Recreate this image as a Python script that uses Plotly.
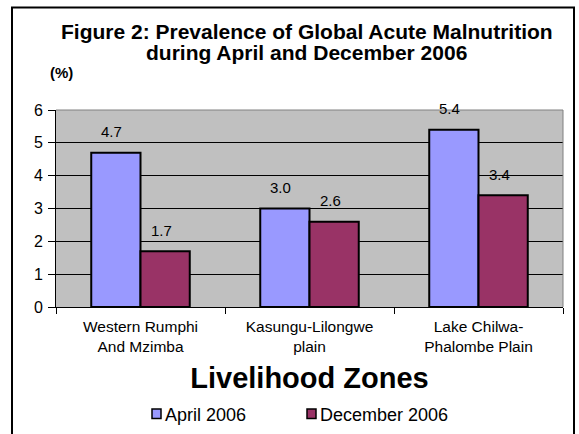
import plotly.graph_objects as go

categories = ["Western Rumphi<br>And Mzimba", "Kasungu-Lilongwe<br>plain", "Lake Chilwa-<br>Phalombe Plain"]
april_2006 = [4.7, 3.0, 5.4]
december_2006 = [1.7, 2.6, 3.4]
series_names = ["April 2006", "December 2006"]
series_colors = ["#9999FF", "#993366"]
y_ticks = [0, 1, 2, 3, 4, 5, 6]

FONT = "Arial, Liberation Sans, sans-serif"
W, H = 579, 434
L, R, T, B = 56, 16, 110, 127
PW, PH = W - L - R, H - T - B


def px(x):
    return (x - L) / PW


def py(y):
    return (H - B - y) / PH


fig = go.Figure()
for name, vals, col in zip(series_names, (april_2006, december_2006), series_colors):
    fig.add_trace(go.Bar(name=name, x=categories, y=vals, showlegend=False,
                         marker=dict(color=col, line=dict(color="black", width=2))))

bar_px = PW / 3 * (1 - 0.417) / 2
annotations = []
for vals, sgn in ((april_2006, -1), (december_2006, 1)):
    for c, v in zip(categories, vals):
        annotations.append(dict(x=c, y=v, xref="x", yref="y", text=f"{v:.1f}",
                                showarrow=False, xshift=sgn * bar_px / 2 - 4, yshift=21,
                                yanchor="middle", font=dict(size=15, color="black", family=FONT)))

annotations += [
    dict(x=px(307), y=py(31), xref="paper", yref="paper", showarrow=False,
         text="<b>Figure 2: Prevalence of Global Acute Malnutrition</b>",
         font=dict(size=21, color="black", family=FONT), xanchor="center", yanchor="middle"),
    dict(x=px(306), y=py(52.5), xref="paper", yref="paper", showarrow=False,
         text="<b>during April and December 2006</b>",
         font=dict(size=21, color="black", family=FONT), xanchor="center", yanchor="middle"),
    dict(x=px(61), y=py(72), xref="paper", yref="paper", showarrow=False,
         text="<b>(%)</b>", font=dict(size=15, color="black", family=FONT),
         xanchor="center", yanchor="middle"),
]

shapes = [
    dict(type="rect", xref="paper", yref="paper", x0=px(12), x1=px(574), y0=py(445), y1=py(7.5),
         line=dict(color="black", width=2), fillcolor="rgba(0,0,0,0)", layer="above"),
    dict(type="path", xref="paper", yref="paper",
         path="M 0,1 L 1,1 L 1,0", line=dict(color="#808080", width=1), layer="above"),
]

# manual legend (icon directly beside its text, as in the reference)
legend_icon_x = [152, 307]
for name, col, ix in zip(series_names, series_colors, legend_icon_x):
    shapes.append(dict(type="rect", xref="paper", yref="paper", x0=px(ix), x1=px(ix + 9),
                       y0=py(418.5), y1=py(409), fillcolor=col,
                       line=dict(color="black", width=1.5), layer="above"))
    annotations.append(dict(x=px(ix + 10.5), y=py(414.5), xref="paper", yref="paper", text=name,
                            showarrow=False, xanchor="left", yanchor="middle",
                            font=dict(size=18, color="black", family=FONT)))

fig.update_layout(
    width=W, height=H,
    margin=dict(l=L, r=R, t=T, b=B, autoexpand=False),
    paper_bgcolor="white", plot_bgcolor="#C0C0C0",
    barmode="group", bargap=0.417, bargroupgap=0,
    font=dict(family=FONT, color="black"),
    showlegend=False,
    annotations=annotations, shapes=shapes,
    xaxis=dict(showline=True, linecolor="black", linewidth=1, ticks="outside",
               tickson="boundaries", ticklen=6, tickcolor="black", showgrid=False,
               tickfont=dict(size=15.5, family=FONT, color="black"), ticklabelstandoff=5,
               title=dict(text="<b>Livelihood Zones</b>", font=dict(size=29, family=FONT, color="black"),
                          standoff=13), automargin=False),
    yaxis=dict(range=[0, 6], tickvals=y_ticks, showline=True, linecolor="black", linewidth=1,
               ticks="outside", ticklen=7, tickcolor="black", showgrid=True,
               gridcolor="black", gridwidth=1, zeroline=False,
               tickfont=dict(size=16, family=FONT, color="black"), ticklabelstandoff=2,
               automargin=False),
)

fig.write_html("out.html", config={"displayModeBar": False},
               post_script="document.body.style.margin='0';")
